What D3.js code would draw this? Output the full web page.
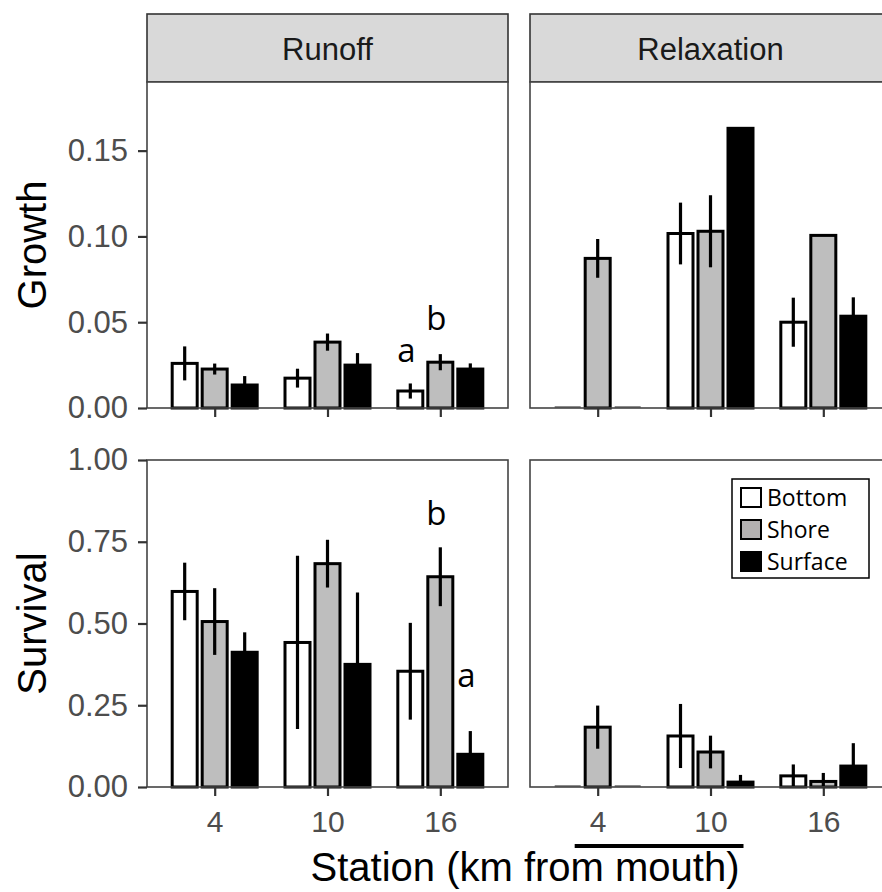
<!DOCTYPE html>
<html>
<head>
<meta charset="utf-8">
<script src="https://cdn.jsdelivr.net/npm/d3@7"></script>
<style>
  body { margin: 0; background: #fff; }
  svg { display: block; }
</style>
</head>
<body>
<svg id="chart" width="882" height="892"></svg>
<script>
const periods = ['Runoff', 'Relaxation'];
const stations = ['4', '10', '16'];
const depths = ['Bottom', 'Shore', 'Surface'];
const growthTicks = [0, 0.05, 0.10, 0.15];
const survivalTicks = [0, 0.25, 0.50, 0.75, 1.00];

// rows = depth (Bottom, Shore, Surface), columns = station (4, 10, 16)
const growthRunoffMean = [[0.026, 0.0174, 0.0099], [0.0227, 0.0384, 0.0267], [0.0134, 0.025, 0.0227]];
const growthRunoffSE   = [[0.0099, 0.0055, 0.0044], [0.0032, 0.0050, 0.0047], [0.0052, 0.0070, 0.0033]];
const growthRelaxMean  = [[0, 0.1017, 0.050], [0.0872, 0.103, 0.1006], [0, 0.163, 0.0535]];
const growthRelaxSE    = [[0, 0.018, 0.0143], [0.0113, 0.021, 0], [0, 0, 0.011]];
const survRunoffMean   = [[0.598, 0.442, 0.354], [0.506, 0.683, 0.643], [0.412, 0.375, 0.10]];
const survRunoffSE     = [[0.088, 0.265, 0.148], [0.102, 0.073, 0.090], [0.061, 0.22, 0.071]];
const survRelaxMean    = [[0, 0.156, 0.034], [0.183, 0.107, 0.017], [0, 0.015, 0.064]];
const survRelaxSE      = [[0, 0.098, 0.035], [0.066, 0.05, 0.026], [0, 0.022, 0.07]];

// significance letters (row, panel, station, depth, label, height in data units)
const letters = [
  {row: 0, col: 0, station: '16', depth: 'Bottom', label: 'a', at: 0.027},
  {row: 0, col: 0, station: '16', depth: 'Shore', label: 'b', at: 0.0455},
  {row: 1, col: 0, station: '16', depth: 'Shore', label: 'b', at: 0.80},
  {row: 1, col: 0, station: '16', depth: 'Surface', label: 'a', at: 0.305}
];

const rows = [
  {title: 'Growth', ticks: growthTicks, max: 0.19, mean: [growthRunoffMean, growthRelaxMean], se: [growthRunoffSE, growthRelaxSE]},
  {title: 'Survival', ticks: survivalTicks, max: 1.0, mean: [survRunoffMean, survRelaxMean], se: [survRunoffSE, survRelaxSE]}
];

const fills = {Bottom: '#ffffff', Shore: '#bebebe', Surface: '#000000'};
const ggFont = '"Liberation Sans", Arial, sans-serif';
const noteFont = '"Open Sans", "Noto Sans", sans-serif';

const svg = d3.select('#chart');
const panelLeft = [147, 530];
const panelW = 361;
const rowTop = [82, 460];
const rowBottom = [408, 787];
const stripTop = 14;

const depthScale = d3.scaleBand().domain(depths).range([-45, 45]);
const barW = depthScale.bandwidth() - 5;

const xScales = panelLeft.map(l => d3.scalePoint().domain(stations).range([l, l + panelW]).padding(0.6));
const yScales = rows.map((r, i) => d3.scaleLinear().domain([0, r.max]).range([rowBottom[i], rowTop[i]]).clamp(true));

// strips
periods.forEach((p, c) => {
  svg.append('rect')
    .attr('x', panelLeft[c]).attr('y', stripTop)
    .attr('width', panelW).attr('height', rowTop[0] - stripTop)
    .attr('fill', '#d9d9d9').attr('stroke', '#333').attr('stroke-width', 1.6);
  svg.append('text')
    .attr('x', panelLeft[c] + panelW / 2).attr('y', 60)
    .attr('text-anchor', 'middle')
    .attr('font-family', ggFont).attr('font-size', 31)
    .attr('fill', '#1a1a1a')
    .text(p);
});

rows.forEach((row, r) => {
  const y = yScales[r];
  periods.forEach((p, c) => {
    const x = xScales[c];
    const g = svg.append('g');
    const bars = [];
    depths.forEach((d, di) => {
      stations.forEach((s, si) => {
        bars.push({depth: d, station: s, mean: row.mean[c][di][si], se: row.se[c][di][si]});
      });
    });

    g.append('rect')
      .attr('x', panelLeft[c]).attr('y', rowTop[r])
      .attr('width', panelW).attr('height', rowBottom[r] - rowTop[r])
      .attr('fill', '#fff');

    g.selectAll('rect.bar').data(bars.filter(b => b.mean > 0)).enter().append('rect')
      .attr('class', 'bar')
      .attr('x', b => x(b.station) + depthScale(b.depth) + (depthScale.bandwidth() - barW) / 2)
      .attr('y', b => y(b.mean))
      .attr('width', barW)
      .attr('height', b => y(0) - y(b.mean))
      .attr('fill', b => fills[b.depth])
      .attr('stroke', '#000').attr('stroke-width', 3);

    // empty cells show as a flat line
    g.selectAll('line.zero').data(bars.filter(b => b.mean === 0)).enter().append('line')
      .attr('class', 'zero')
      .attr('x1', b => x(b.station) + depthScale(b.depth) + 2)
      .attr('x2', b => x(b.station) + depthScale(b.depth) + depthScale.bandwidth() - 2)
      .attr('y1', y(0) - 1).attr('y2', y(0) - 1)
      .attr('stroke', '#666').attr('stroke-width', 1.5);

    g.selectAll('line.err').data(bars.filter(b => b.se > 0)).enter().append('line')
      .attr('class', 'err')
      .attr('x1', b => x(b.station) + depthScale(b.depth) + depthScale.bandwidth() / 2)
      .attr('x2', b => x(b.station) + depthScale(b.depth) + depthScale.bandwidth() / 2)
      .attr('y1', b => y(b.mean - b.se))
      .attr('y2', b => y(b.mean + b.se))
      .attr('stroke', '#000').attr('stroke-width', 3.2);

    g.append('rect')
      .attr('x', panelLeft[c]).attr('y', rowTop[r])
      .attr('width', panelW).attr('height', rowBottom[r] - rowTop[r])
      .attr('fill', 'none').attr('stroke', '#444').attr('stroke-width', 1.6);

    // x axis
    const xAxis = d3.axisBottom(x).tickSize(9).tickPadding(15);
    if (r === 0) xAxis.tickFormat('');
    const xg = svg.append('g')
      .attr('transform', `translate(0, ${rowBottom[r]})`)
      .call(xAxis);
    xg.select('.domain').remove();
    xg.selectAll('line').attr('stroke', '#333').attr('stroke-width', 2.2);
    xg.selectAll('text').attr('font-family', ggFont).attr('font-size', 30).attr('fill', '#4d4d4d');

    // y axis only on the left column
    if (c === 0) {
      const yg = svg.append('g')
        .attr('transform', `translate(${panelLeft[c]}, 0)`)
        .call(d3.axisLeft(y).tickValues(row.ticks).tickFormat(d3.format('.2f')).tickSize(9).tickPadding(10));
      yg.select('.domain').remove();
      yg.selectAll('line').attr('stroke', '#333').attr('stroke-width', 2.2);
      yg.selectAll('text').attr('font-family', ggFont).attr('font-size', 31).attr('fill', '#4d4d4d');
    }
  });

  svg.append('text')
    .attr('transform', `translate(46, ${(rowTop[r] + rowBottom[r]) / 2}) rotate(-90)`)
    .attr('text-anchor', 'middle')
    .attr('font-family', ggFont).attr('font-size', 40)
    .text(row.title);
});

// letters
svg.selectAll('text.letter').data(letters).enter().append('text')
  .attr('class', 'letter')
  .attr('x', d => xScales[d.col](d.station) + depthScale(d.depth) + depthScale.bandwidth() / 2 - 4)
  .attr('y', d => yScales[d.row](d.at))
  .attr('text-anchor', 'middle')
  .attr('font-family', noteFont).attr('font-size', 33)
  .text(d => d.label);

// hand-drawn underline beneath stations 4-10 in the Relaxation panel
svg.append('line')
  .attr('x1', xScales[1]('4') - 23).attr('x2', xScales[1]('10') + 33)
  .attr('y1', 846).attr('y2', 846)
  .attr('stroke', '#000').attr('stroke-width', 4);

// x title
svg.append('text')
  .attr('x', 525).attr('y', 881)
  .attr('text-anchor', 'middle')
  .attr('font-family', ggFont).attr('font-size', 40)
  .text('Station (km from mouth)');

// legend
const legend = svg.append('g').attr('transform', 'translate(732, 479)');
legend.append('rect')
  .attr('width', 137).attr('height', 99)
  .attr('fill', '#fff').attr('stroke', '#000').attr('stroke-width', 1.5);
const items = legend.selectAll('g.item').data(depths).enter().append('g')
  .attr('class', 'item')
  .attr('transform', (d, i) => `translate(8, ${8 + i * 32})`);
items.append('rect')
  .attr('x', 1).attr('y', 1)
  .attr('width', 20).attr('height', 19)
  .attr('fill', d => d === 'Shore' ? '#b4b1b1' : fills[d])
  .attr('stroke', '#000').attr('stroke-width', 2);
items.append('text')
  .attr('x', 27).attr('y', 19)
  .attr('font-family', noteFont).attr('font-size', 23)
  .text(d => d);
</script>
</body>
</html>
